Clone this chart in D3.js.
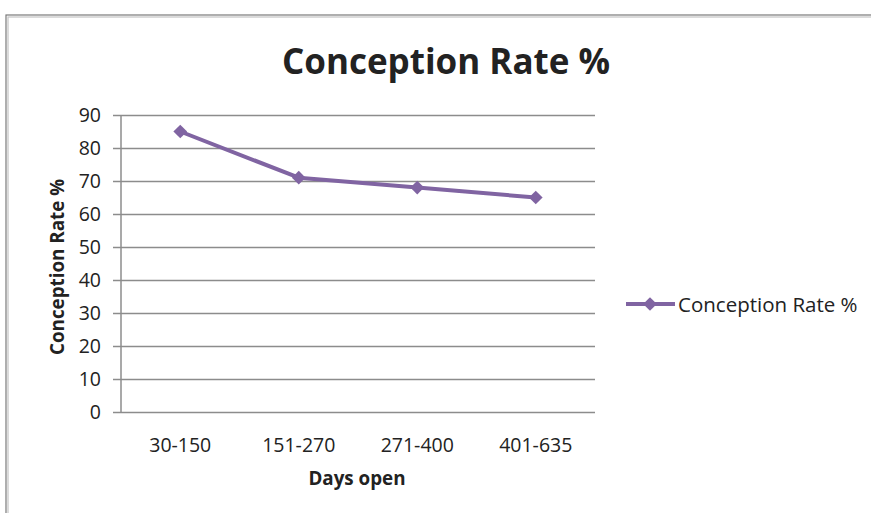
<!DOCTYPE html>
<html>
<head>
<meta charset="utf-8">
<script src="https://cdn.jsdelivr.net/npm/d3@7"></script>
<style>
  html, body { margin: 0; padding: 0; background: #fff; }
  svg { display: block; }
  text { font-family: "Open Sans", "DejaVu Sans", sans-serif; fill: #222; }
</style>
</head>
<body>
<svg id="chart" width="871" height="513"></svg>
<script>
// Conception rate by days-open group
const categories = ["30-150", "151-270", "271-400", "401-635"];
const conceptionRate = [85, 71, 68, 65];
const yTicks = [0, 10, 20, 30, 40, 50, 60, 70, 80, 90];
const seriesName = "Conception Rate %";
const xTitle = "Days open";

const svg = d3.select("#chart");
const plot = { left: 121, right: 595, top: 115, bottom: 412 };
const purple = "#8064a2";
const gridColor = "#8c8c8c";
const labelSize = 19.5;
const axisTitleSize = 18.8;

// chart frame (double grey rule, open to the right and bottom)
svg.append("rect")
  .attr("x", 6).attr("y", 15).attr("width", 900).attr("height", 600)
  .attr("fill", "none").attr("stroke", "#7a7a7a").attr("stroke-width", 1.2);
svg.append("rect")
  .attr("x", 8).attr("y", 17).attr("width", 900).attr("height", 600)
  .attr("fill", "none").attr("stroke", "#c4c4c4").attr("stroke-width", 1.2);

const x = d3.scaleBand().domain(categories).range([plot.left, plot.right]);
const y = d3.scaleLinear().domain([0, 90]).range([plot.bottom, plot.top]);

// horizontal gridlines + y axis
const yAxis = d3.axisLeft(y).tickValues(yTicks).tickSize(plot.right - plot.left + 8).tickPadding(12);
const gy = svg.append("g").attr("transform", `translate(${plot.right},0)`).call(yAxis);
gy.select(".domain").remove();
gy.selectAll(".tick line").attr("stroke", gridColor).attr("stroke-width", 1.5);
gy.selectAll(".tick text").attr("font-size", labelSize).attr("fill", "#222");

// vertical axis line
svg.append("line")
  .attr("x1", plot.left).attr("x2", plot.left)
  .attr("y1", plot.top).attr("y2", plot.bottom)
  .attr("stroke", gridColor).attr("stroke-width", 1.5);

// x axis labels
const xAxis = d3.axisBottom(x).tickSize(0).tickPadding(26);
const gx = svg.append("g").attr("transform", `translate(0,${plot.bottom})`).call(xAxis);
gx.select(".domain").remove();
gx.selectAll(".tick text").attr("font-size", labelSize).attr("fill", "#222");

// series line
const line = d3.line()
  .x((d, i) => x(categories[i]) + x.bandwidth() / 2)
  .y(d => y(d));
svg.append("path")
  .datum(conceptionRate)
  .attr("d", line)
  .attr("fill", "none")
  .attr("stroke", purple)
  .attr("stroke-width", 4)
  .attr("stroke-linejoin", "round");

const diamond = d3.symbol().type(d3.symbolDiamond2).size(120);
svg.append("g").selectAll("path")
  .data(conceptionRate)
  .join("path")
  .attr("d", diamond)
  .attr("transform", (d, i) => `translate(${x(categories[i]) + x.bandwidth() / 2},${y(d)})`)
  .attr("fill", purple);

// title
svg.append("text")
  .attr("x", 446).attr("y", 74)
  .attr("text-anchor", "middle")
  .attr("font-size", 35).attr("font-weight", "bold")
  .attr("fill", "#111")
  .text(seriesName);

// axis titles
svg.append("text")
  .attr("transform", "translate(64,267) rotate(-90)")
  .attr("text-anchor", "middle")
  .attr("font-size", axisTitleSize).attr("font-weight", "bold")
  .text(seriesName);

svg.append("text")
  .attr("x", 357).attr("y", 485)
  .attr("text-anchor", "middle")
  .attr("font-size", axisTitleSize).attr("font-weight", "bold")
  .text(xTitle);

// legend
const legend = svg.append("g").attr("transform", "translate(626,304)");
legend.append("line")
  .attr("x1", 0).attr("x2", 49).attr("y1", 0).attr("y2", 0)
  .attr("stroke", purple).attr("stroke-width", 4);
legend.append("path")
  .attr("d", diamond)
  .attr("transform", "translate(24,0)")
  .attr("fill", purple);
legend.append("text")
  .attr("x", 52).attr("y", 8)
  .attr("font-size", 20.5)
  .text(seriesName);
</script>
</body>
</html>
